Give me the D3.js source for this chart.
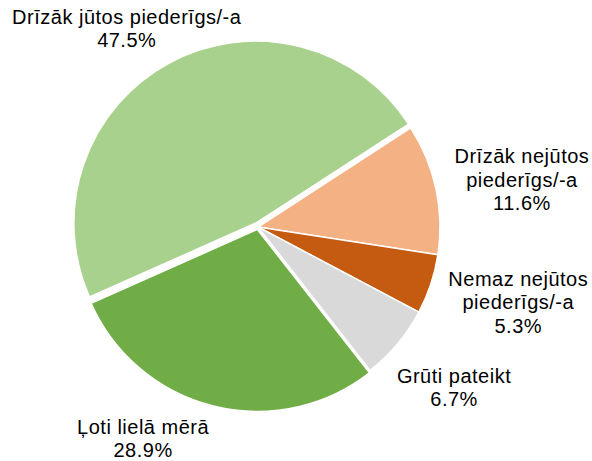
<!DOCTYPE html>
<html>
<head>
<meta charset="utf-8">
<script src="https://cdn.jsdelivr.net/npm/d3@7"></script>
<style>
  body { margin: 0; background: #fff; }
  svg { display: block; }
</style>
</head>
<body>
<svg width="592" height="461"></svg>
<script>
// chart data
const categories = ["Ļoti lielā mērā", "Drīzāk jūtos piederīgs/-a", "Drīzāk nejūtos piederīgs/-a", "Nemaz nejūtos piederīgs/-a", "Grūti pateikt"];
const values = [28.9, 47.5, 11.6, 5.3, 6.7];
const labelLines = [
  ["Ļoti lielā mērā"],
  ["Drīzāk jūtos piederīgs/-a"],
  ["Drīzāk nejūtos", "piederīgs/-a"],
  ["Nemaz nejūtos", "piederīgs/-a"],
  ["Grūti pateikt"]
];

// styling / layout
const colors = ["#70AD47", "#A9D18E", "#F4B183", "#C55A11", "#D9D9D9"];
const explode = [2.5, 4.5, 0, 0, 0];
const labelAngleNudge = [13.7, -6, 3.4, -0.8, 0.6];   // degrees
const labelDist = [247, 232, 267, 273, 258];

const svg = d3.select("svg");
const cx = 258, cy = 227, r = 182;
const deg = Math.PI / 180;
const start = 142 * deg;

const pie = d3.pie().sort(null).startAngle(start).endAngle(start + 2 * Math.PI);
const arcs = pie(values);
const arc = d3.arc().innerRadius(0).outerRadius(r);

const g = svg.append("g").attr("transform", "translate(" + cx + "," + cy + ")");

g.selectAll("path.slice")
  .data(arcs)
  .enter()
  .append("path")
  .attr("class", "slice")
  .attr("d", arc)
  .attr("fill", (d, i) => colors[i])
  .attr("stroke", "#fff")
  .attr("stroke-width", 1.5)
  .attr("stroke-linejoin", "round")
  .attr("transform", (d, i) => {
    const m = (d.startAngle + d.endAngle) / 2;
    return "translate(" + (Math.sin(m) * explode[i]) + "," + (-Math.cos(m) * explode[i]) + ")";
  });

const lh = 23.5;
const labels = g.selectAll("text.lbl")
  .data(arcs)
  .enter()
  .append("text")
  .attr("class", "lbl")
  .attr("text-anchor", "middle")
  .style("font-family", "'Liberation Sans', Arial, sans-serif")
  .style("font-size", "20px")
  .style("letter-spacing", "0.5px")
  .attr("fill", "#000");

labels.each(function (d, i) {
  const m = (d.startAngle + d.endAngle) / 2 + labelAngleNudge[i] * deg;
  const x = Math.sin(m) * labelDist[i];
  const y = -Math.cos(m) * labelDist[i];
  const lines = labelLines[i].concat([d3.format(".1f")(values[i]) + "%"]);
  const y0 = y - (lines.length - 1) * lh / 2;
  const t = d3.select(this);
  lines.forEach((s, k) => {
    t.append("tspan").attr("x", x).attr("y", y0 + k * lh).text(s);
  });
});
</script>
</body>
</html>
